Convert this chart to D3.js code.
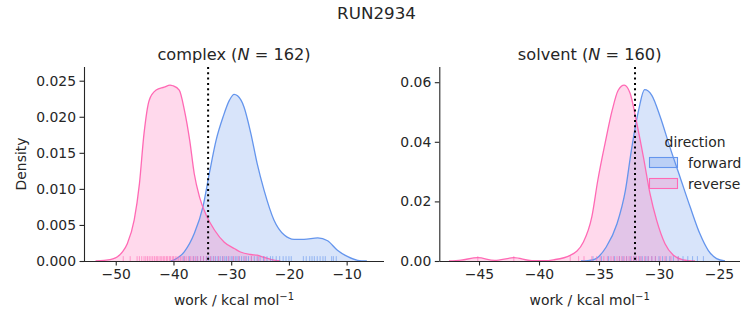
<!DOCTYPE html>
<html><head><meta charset="utf-8">
<script src="https://cdn.jsdelivr.net/npm/d3@7"></script>
<style>body{margin:0;background:#fff}svg{display:block}text{font-family:"DejaVu Sans",sans-serif;fill:#262626}</style>
</head><body><svg id="c" width="753" height="325"></svg>
<script>
const suptitle = "RUN2934";
const legendTitle = "direction";
const seriesNames = ["forward", "reverse"];
const seriesColors = ["#6495ED", "#FF69B4"];

// complex panel density curves [work, density]
const complexForward = [[-40.5,0],[-39.8,0.0002],[-38.1,0.0013],[-36.4,0.0038],[-34.9,0.0075],[-33.8,0.0121],[-32.6,0.0168],[-31.4,0.0200],[-30.3,0.0223],[-29.5,0.0231],[-28.9,0.0229],[-27.8,0.0214],[-26.6,0.0177],[-25.5,0.0135],[-24.3,0.0098],[-22.6,0.0057],[-20.8,0.0036],[-19.1,0.0030],[-17.4,0.0030],[-15.0,0.0032],[-13.3,0.0028],[-11.6,0.0015],[-9.8,0.0006],[-8.1,0.0001],[-6.5,0]];
const complexReverse = [[-53.5,0],[-52,0.0001],[-50.5,0.0003],[-49.7,0.0006],[-48.8,0.0013],[-48,0.0024],[-46.8,0.0057],[-45.9,0.0107],[-45.1,0.0177],[-44.2,0.0223],[-43.0,0.0237],[-41.6,0.0241],[-40.6,0.0244],[-40.1,0.0243],[-39.0,0.0237],[-38.1,0.0209],[-37.2,0.0168],[-36.4,0.0121],[-35.5,0.0089],[-34.3,0.0063],[-32.9,0.0043],[-31.2,0.0026],[-29.4,0.0017],[-28.4,0.00125],[-26.6,0.0009],[-25.5,0.0008],[-24.3,0.0005],[-23.0,0.0002],[-21.5,0]];
// solvent panel density curves
const solventForward = [[-36.5,0],[-35.5,0.0004],[-34.4,0.0047],[-33.5,0.0125],[-32.8,0.0237],[-32.3,0.0372],[-31.7,0.0506],[-31.2,0.0575],[-30.6,0.0556],[-29.9,0.0484],[-29.1,0.0383],[-28.25,0.0282],[-27.4,0.0181],[-26.6,0.0092],[-25.9,0.0036],[-25.2,0.0008],[-24.5,0]];
const solventReverse = [[-47.5,0],[-46.5,0.0003],[-45.1,0.0011],[-43.7,0.0002],[-42.1,0.0011],[-40.6,0.0001],[-39.5,0.0001],[-38.8,0.0004],[-37.4,0.0019],[-36.3,0.0064],[-35.6,0.0148],[-35.1,0.0271],[-34.5,0.0394],[-33.9,0.0506],[-33.4,0.0573],[-32.9,0.0590],[-32.4,0.0562],[-31.9,0.0472],[-31.3,0.0349],[-30.75,0.0226],[-30.2,0.0137],[-29.5,0.0058],[-28.8,0.0019],[-28.0,0.0004],[-27.0,0]];

// rug values
const complexRugForward = [-38.2,-37.2,-36.5,-35.9,-35.3,-34.8,-34.3,-33.9,-33.5,-33.1,-32.7,-32.3,-31.9,-31.5,-31.1,-30.8,-30.4,-30.0,-29.7,-29.3,-29.0,-28.6,-28.2,-27.8,-27.4,-27.0,-26.5,-26.0,-25.5,-25.0,-24.4,-23.8,-23.2,-22.8,-22.2,-21.6,-21.0,-20.5,-20.0,-19.6,-17.5,-17.0,-16.4,-16.0,-15.6,-15.1,-14.6,-14.1,-13.7,-12.6,-12.3,-11.8];
const complexRugReverse = [-48.7,-47.5,-46.3,-45.9,-45.5,-45.1,-44.8,-44.5,-44.2,-43.9,-43.6,-43.3,-43.0,-42.8,-42.5,-42.2,-42.0,-41.7,-41.5,-41.2,-41.0,-40.7,-40.5,-40.2,-40.0,-39.7,-39.4,-39.1,-38.8,-38.5,-38.1,-37.8,-37.4,-37.0,-36.6,-36.2,-35.8,-35.3,-34.8,-34.2,-33.6,-33.0,-32.2,-31.4,-30.5,-29.6,-28.7,-27.6,-26.5,-25.3,-24.2];
const solventRugForward = [-35.5,-34.8,-34.2,-33.7,-33.3,-33.0,-32.7,-32.4,-32.1,-31.9,-31.6,-31.4,-31.1,-30.9,-30.6,-30.3,-30.0,-29.7,-29.4,-29.1,-28.8,-28.4,-28.0,-27.6,-27.2,-26.8,-26.3];
const solventRugReverse = [-45.1,-42.1,-37.4,-36.7,-36.25,-35.6,-35.2,-34.9,-34.6,-34.3,-34.0,-33.8,-33.5,-33.3,-33.1,-32.9,-32.7,-32.5,-32.3,-32.1,-31.9,-31.7,-31.5,-31.2,-30.9,-30.6,-30.3,-29.9,-29.5,-29.0,-28.4];

const complexXTicks = [-50,-40,-30,-20,-10];
const complexYTicks = [0,0.005,0.010,0.015,0.020,0.025];
const solventXTicks = [-45,-40,-35,-30,-25];
const solventYTicks = [0,0.02,0.04,0.06];

const panels = [
  {name:"complex", n:162, left:84, right:384, xd:[-55.5,-3.53], yd:[0,0.0269], xt:complexXTicks, yt:complexYTicks, yf:".3f",
   curves:[complexForward, complexReverse], rugs:[complexRugForward, complexRugReverse], vline:-34, ylabel:true, legend:false},
  {name:"solvent", n:160, left:439.3, right:740, xd:[-48.31,-23.25], yd:[0,0.0651], xt:solventXTicks, yt:solventYTicks, yf:".2f",
   curves:[solventForward, solventReverse], rugs:[solventRugForward, solventRugReverse], vline:-32, ylabel:false, legend:true}
];
const plotTop = 67, plotBottom = 261;
const fs = "13.9px";
const ink = "#262626";
const svg = d3.select("#c");

svg.append("text").attr("x",376.5).attr("y",19).attr("text-anchor","middle").style("font-size","16.7px").text(suptitle);

panels.forEach(p => {
  const x = d3.scaleLinear().domain(p.xd).range([p.left,p.right]);
  const y = d3.scaleLinear().domain(p.yd).range([plotBottom,plotTop]);
  const g = svg.append("g");
  const area = d3.area().x(d=>x(d[0])).y0(y(0)).y1(d=>y(d[1])).curve(d3.curveMonotoneX);
  const line = d3.line().x(d=>x(d[0])).y(d=>y(d[1])).curve(d3.curveMonotoneX);
  p.curves.forEach((c,i)=>{
    g.append("path").datum(c).attr("d",area).attr("fill",seriesColors[i]).attr("fill-opacity",0.25);
  });
  p.curves.forEach((c,i)=>{
    g.append("path").datum(c).attr("d",line).attr("fill","none").attr("stroke",seriesColors[i]).attr("stroke-width",1.3);
  });
  const rugH = (plotBottom-plotTop)*0.025;
  p.rugs.forEach((r,i)=>{
    g.selectAll(null).data(r).enter().append("line")
      .attr("x1",d=>x(d)).attr("x2",d=>x(d)).attr("y1",plotBottom).attr("y2",plotBottom-rugH)
      .attr("stroke",seriesColors[i]).attr("stroke-opacity",0.6).attr("stroke-width",1);
  });
  g.append("line").attr("x1",x(p.vline)).attr("x2",x(p.vline)).attr("y1",plotTop).attr("y2",plotBottom)
    .attr("stroke","#000").attr("stroke-width",2).attr("stroke-dasharray","2,3.3");

  const xa = g.append("g").attr("transform",`translate(0,${plotBottom})`)
    .call(d3.axisBottom(x).tickValues(p.xt).tickSize(4.5).tickPadding(3.5).tickFormat(d3.format("d")));
  const ya = g.append("g").attr("transform",`translate(${p.left},0)`)
    .call(d3.axisLeft(y).tickValues(p.yt).tickSize(4.5).tickPadding(3.5).tickFormat(d3.format(p.yf)));
  [xa,ya].forEach(a=>{
    a.select(".domain").attr("stroke",ink).attr("stroke-width",1.1);
    a.selectAll(".tick line").attr("stroke",ink).attr("stroke-width",1.1);
    a.selectAll(".tick text").style("font-size",fs).attr("fill",ink).style("font-family","DejaVu Sans");
  });
  xa.select(".domain").attr("d",`M${p.left},0.5H${p.right}`);
  ya.select(".domain").attr("d",`M0.5,${plotBottom}V${plotTop}`);

  const cx = (p.left+p.right)/2;
  const t = g.append("text").attr("x",cx).attr("y",60).attr("text-anchor","middle").style("font-size","16.2px");
  t.append("tspan").text(p.name+" (");
  t.append("tspan").style("font-style","italic").text("N");
  t.append("tspan").text(" = "+p.n+")");

  const xl = g.append("text").attr("x",cx).attr("y",305).attr("text-anchor","middle").style("font-size",fs);
  xl.append("tspan").text("work / kcal mol");
  xl.append("tspan").attr("dy",-5.5).style("font-size","10px").text("\u22121");

  if (p.ylabel) {
    g.append("text").attr("transform","translate(26,164) rotate(-90)").attr("text-anchor","middle").style("font-size",fs).text("Density");
  }
  if (p.legend) {
    svg.append("text").attr("x",695).attr("y",147).attr("text-anchor","middle").style("font-size",fs).text(legendTitle);
    seriesNames.forEach((s,i)=>{
      const yy = 157.5 + i*21;
      svg.append("rect").attr("x",649.5).attr("y",yy).attr("width",28).attr("height",10)
        .attr("fill",seriesColors[i]).attr("fill-opacity",0.25).attr("stroke",seriesColors[i]).attr("stroke-width",1.1);
      svg.append("text").attr("x",688).attr("y",yy+10).style("font-size",fs).text(s);
    });
  }
});
</script></body></html>
